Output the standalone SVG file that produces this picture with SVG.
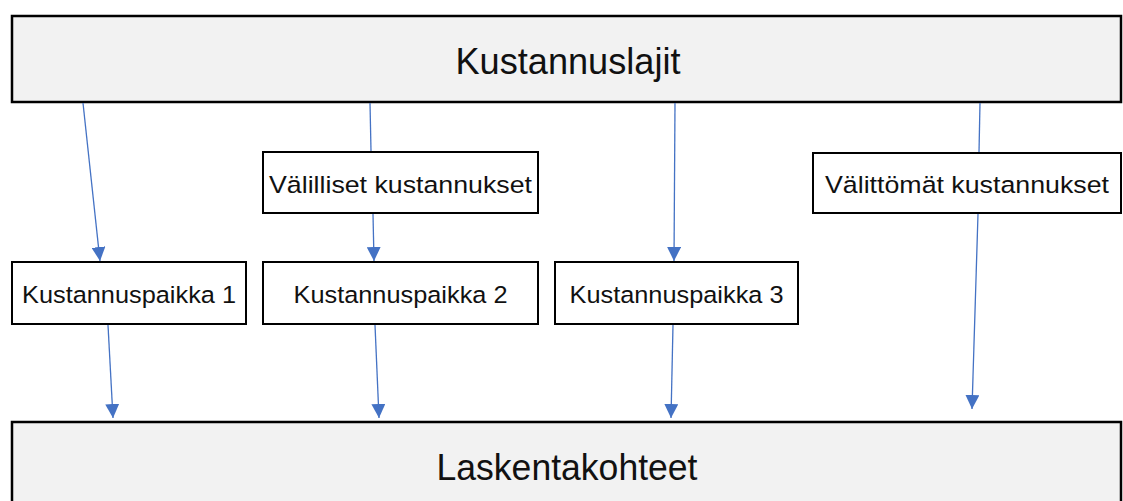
<svg xmlns="http://www.w3.org/2000/svg" width="1123" height="501" viewBox="0 0 1123 501">
  <style>
    .big { fill: #f2f2f2; stroke: #000; stroke-width: 2.5; }
    .box { fill: #fff; stroke: #000; stroke-width: 2; }
    .lbl { font-family: "Liberation Sans", Arial, sans-serif; fill: #111; text-anchor: middle; }
    .lg { font-size: 36px; }
    .sm { font-size: 24.5px; }
    .conn line { stroke: #4472c4; stroke-width: 1.3; marker-end: url(#tri); }
    .conn line.plain { marker-end: none; }
  </style>
  <defs>
    <marker id="tri" viewBox="0 0 14 14" refX="14" refY="7" markerWidth="14" markerHeight="14" markerUnits="userSpaceOnUse" orient="auto">
      <path d="M0,0 L14,7 L0,14 Z" fill="#4472c4"/>
    </marker>
  </defs>

  <g id="kustannuslajit">
    <rect class="big" x="12" y="16" width="1109" height="86"/>
    <text class="lbl lg" x="568" y="74" textLength="225" lengthAdjust="spacingAndGlyphs">Kustannuslajit</text>
  </g>

  <g id="valilliset">
    <rect class="box" x="263" y="152" width="275" height="61"/>
    <text class="lbl sm" x="400.5" y="193" textLength="263" lengthAdjust="spacingAndGlyphs">Välilliset kustannukset</text>
  </g>

  <g id="valittomat">
    <rect class="box" x="813" y="153" width="308" height="60"/>
    <text class="lbl sm" x="967" y="193" textLength="284" lengthAdjust="spacingAndGlyphs">Välittömät kustannukset</text>
  </g>

  <g id="paikka1">
    <rect class="box" x="12" y="262" width="234" height="62"/>
    <text class="lbl sm" x="129" y="303" textLength="214" lengthAdjust="spacingAndGlyphs">Kustannuspaikka 1</text>
  </g>

  <g id="paikka2">
    <rect class="box" x="263" y="262" width="275" height="62"/>
    <text class="lbl sm" x="400.5" y="303" textLength="214" lengthAdjust="spacingAndGlyphs">Kustannuspaikka 2</text>
  </g>

  <g id="paikka3">
    <rect class="box" x="555" y="262" width="243" height="62"/>
    <text class="lbl sm" x="676.5" y="303" textLength="214" lengthAdjust="spacingAndGlyphs">Kustannuspaikka 3</text>
  </g>

  <g id="laskentakohteet">
    <rect class="big" x="12" y="422" width="1109" height="90"/>
    <text class="lbl lg" x="567" y="480" textLength="261" lengthAdjust="spacingAndGlyphs">Laskentakohteet</text>
  </g>

  <g class="conn" id="connectors">
    <line x1="83" y1="103" x2="100" y2="261"/>
    <line class="plain" x1="370" y1="103" x2="371" y2="151"/>
    <line x1="373" y1="214" x2="374" y2="261"/>
    <line x1="675" y1="103" x2="674" y2="261"/>
    <line class="plain" x1="980" y1="103" x2="979" y2="152"/>
    <line x1="978" y1="214" x2="972" y2="409"/>
    <line x1="108" y1="325" x2="113" y2="418"/>
    <line x1="375" y1="325" x2="379" y2="418"/>
    <line x1="673" y1="325" x2="671" y2="418"/>
  </g>
</svg>
